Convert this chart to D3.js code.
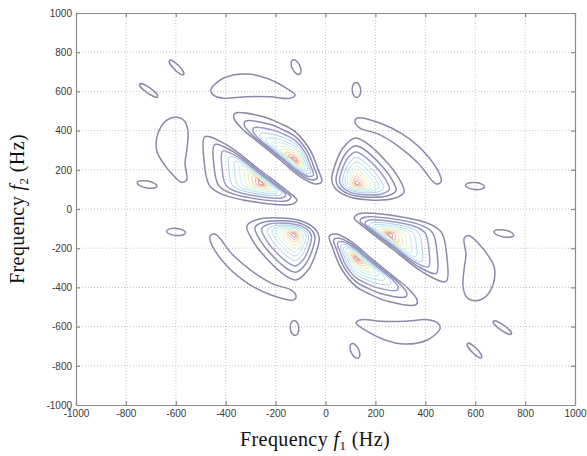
<!DOCTYPE html>
<html>
<head>
<meta charset="utf-8">
<script src="https://cdn.jsdelivr.net/npm/d3@7"></script>
<style>
  body { margin: 0; background: #fff; }
  svg { display: block; }
  .tick text { font-family: Arial, "Liberation Sans", sans-serif; font-size: 10px; fill: #3a3a3a; }
  .axis path, .axis line { stroke: #8c8c8c; stroke-width: 1.2; }
  .title { font-family: "Liberation Serif", "Times New Roman", serif; font-size: 20px; letter-spacing: 0.4px; fill: #111; }
</style>
</head>
<body>
<svg id="chart" width="587" height="456"></svg>
<script>
// tick values shared by both axes (Hz)
const ticks = [-1000, -800, -600, -400, -200, 0, 200, 400, 600, 800, 1000];

// contour levels: fraction of the outer outline (scaled toward the peak) and colour
const levelFractions = [1, 0.83, 0.69, 0.57, 0.47, 0.38, 0.3, 0.23, 0.165, 0.11, 0.06];
const levelColors = ["#8a8aa8", "#8c8cb2", "#999bca", "#a2c6e8", "#a6dcee", "#bdeee4",
                     "#daf2c0", "#f2e4a8", "#f2c69e", "#e89e96", "#c47c8c"];

// main lobes: peak (f1, f2) and outer contour outline
const lobePeaks = [
  [-255, 131], [-122, 250], [125, 131],
  [255, -131], [122, -250], [-125, -131]
];
const lobeOutlines = [
  [[-483,369],[-396,327],[-263,199],[-142,80],[-115,46],[-135,24],[-289,37],[-423,80],[-466,122],[-487,250]],
  [[-363,488],[-249,471],[-182,437],[-122,395],[-62,301],[-29,199],[-15,139],[-42,128],[-102,165],[-182,250],[-263,335],[-329,403],[-367,463]],
  [[25,148],[38,224],[70,311],[118,362],[158,342],[238,250],[291,163],[315,87],[279,56],[178,46],[86,66],[38,107]],
  [[483,-369],[396,-327],[263,-199],[142,-80],[115,-46],[135,-24],[289,-37],[423,-80],[466,-122],[487,-250]],
  [[363,-488],[249,-471],[182,-437],[122,-395],[62,-301],[29,-199],[15,-139],[42,-128],[102,-165],[182,-250],[263,-335],[329,-403],[367,-463]],
  [[-25,-148],[-38,-224],[-70,-311],[-118,-362],[-158,-342],[-238,-250],[-291,-163],[-315,-87],[-279,-56],[-178,-46],[-86,-66],[-38,-107]]
];

// side lobes (lowest level only)
const sideOutlines = [
  [[-596,468],[-636,454],[-671,388],[-677,301],[-651,235],[-611,173],[-576,136],[-556,148],[-563,233],[-556,301],[-551,388],[-563,445]],
  [[596,-468],[636,-454],[671,-388],[677,-301],[651,-235],[611,-173],[576,-136],[556,-148],[563,-233],[556,-301],[551,-388],[563,-445]],
  [[-460,607],[-410,667],[-316,689],[-236,667],[-156,616],[-122,582],[-142,565],[-222,573],[-316,573],[-410,565],[-450,582]],
  [[460,-607],[410,-667],[316,-689],[236,-667],[156,-616],[122,-582],[142,-565],[222,-573],[316,-573],[410,-565],[450,-582]],
  [[126,464],[218,439],[307,383],[395,291],[459,173],[463,138],[443,128],[371,235],[291,321],[210,383],[138,413],[118,444]],
  [[-126,-464],[-218,-439],[-307,-383],[-395,-291],[-459,-173],[-463,-138],[-443,-128],[-371,-235],[-291,-321],[-210,-383],[-138,-413],[-118,-444]]
];

// small closed islands: centre f1, centre f2, semi-axes (Hz on f1 scale), tilt (deg)
const islandF1 = [-709, -597, -715, -599, -118, 124, 709, 597, 715, 599, 118, -124];
const islandF2 = [605, 722, 125, -117, 724, 607, -605, -722, -125, 117, -724, -607];
const islandA  = [44, 40, 40, 38, 32, 30, 44, 40, 40, 38, 32, 30];
const islandB  = [11, 11, 14, 14, 16, 17, 11, 11, 14, 14, 16, 17];
const islandTilt = [35, 45, 10, 5, 65, 85, 35, 45, 10, 5, 65, 85];

let width = 587,
    height = 456,
    margins = {top: 13, bottom: 51, left: 76, right: 12};

let svg = d3.select("#chart");

let x = d3.scaleLinear().domain([-1000, 1000]).range([margins.left, width - margins.right]),
    y = d3.scaleLinear().domain([-1000, 1000]).range([height - margins.bottom, margins.top]);

// grid
let grid = svg.append("g");
grid.selectAll("line.v")
  .data(ticks.slice(1, -1)).enter()
  .append("line")
  .attr("x1", d => x(d)).attr("x2", d => x(d))
  .attr("y1", y(-1000)).attr("y2", y(1000));
grid.selectAll("line.h")
  .data(ticks.slice(1, -1)).enter()
  .append("line")
  .attr("y1", d => y(d)).attr("y2", d => y(d))
  .attr("x1", x(-1000)).attr("x2", x(1000));
grid.selectAll("line")
  .attr("stroke", "#c4c4c4")
  .attr("stroke-width", 1)
  .attr("stroke-dasharray", "1,2");

svg.append("clipPath").attr("id", "clip")
  .append("rect")
  .attr("x", x(-1000)).attr("y", y(1000))
  .attr("width", x(1000) - x(-1000)).attr("height", y(-1000) - y(1000));

let plot = svg.append("g").attr("clip-path", "url(#clip)");

let contourLine = d3.line()
  .x(d => x(d[0]))
  .y(d => y(d[1]))
  .curve(d3.curveCatmullRomClosed.alpha(0.5));

// side lobes
plot.selectAll("path.side")
  .data(sideOutlines).enter()
  .append("path")
  .attr("d", contourLine)
  .attr("fill", "none")
  .attr("stroke", levelColors[0])
  .attr("stroke-width", 1.5);

// islands
let pxPerHz = x(1) - x(0);
plot.selectAll("ellipse")
  .data(islandF1.map((d, i) => i)).enter()
  .append("ellipse")
  .attr("cx", 0).attr("cy", 0)
  .attr("rx", i => islandA[i] * pxPerHz)
  .attr("ry", i => islandB[i] * pxPerHz)
  .attr("transform", i => `translate(${x(islandF1[i])},${y(islandF2[i])}) rotate(${islandTilt[i]})`)
  .attr("fill", "none")
  .attr("stroke", levelColors[0])
  .attr("stroke-width", 1.5);

// main lobes, outer level first
lobeOutlines.forEach((outline, k) => {
  let peak = lobePeaks[k];
  levelFractions.forEach((s, i) => {
    let pts = outline.map(p => [peak[0] + s * (p[0] - peak[0]), peak[1] + s * (p[1] - peak[1])]);
    plot.append("path")
      .attr("d", contourLine(pts))
      .attr("fill", "none")
      .attr("stroke", levelColors[i])
      .attr("stroke-width", i < 3 ? 1.5 : 0.9);
  });
});

// axes (ticks point inward on all four sides)
let fmt = d => String(d);
svg.append("g").attr("class", "axis")
  .attr("transform", `translate(0,${y(-1000)})`)
  .call(d3.axisBottom(x).tickValues(ticks).tickFormat(fmt).tickSizeInner(-4).tickSizeOuter(0).tickPadding(5));
svg.append("g").attr("class", "axis")
  .attr("transform", `translate(${x(-1000)},0)`)
  .call(d3.axisLeft(y).tickValues(ticks).tickFormat(fmt).tickSizeInner(-4).tickSizeOuter(0).tickPadding(4));
svg.append("g").attr("class", "axis")
  .attr("transform", `translate(0,${y(1000)})`)
  .call(d3.axisTop(x).tickValues(ticks).tickFormat("").tickSizeInner(-4).tickSizeOuter(0));
svg.append("g").attr("class", "axis")
  .attr("transform", `translate(${x(1000)},0)`)
  .call(d3.axisRight(y).tickValues(ticks).tickFormat("").tickSizeInner(-4).tickSizeOuter(0));
svg.selectAll(".axis .domain").attr("stroke", "#8c8c8c");

// axis titles
let xt = svg.append("text").attr("class", "title")
  .attr("x", 315).attr("y", 446)
  .attr("text-anchor", "middle");
xt.append("tspan").text("Frequency ");
xt.append("tspan").attr("font-style", "italic").text("f");
xt.append("tspan").attr("font-size", "13px").attr("dy", 4).text("1");
xt.append("tspan").attr("dy", -4).text(" (Hz)");

let yt = svg.append("text").attr("class", "title")
  .attr("transform", `translate(24,${y(0)}) rotate(-90)`)
  .attr("text-anchor", "middle");
yt.append("tspan").text("Frequency ");
yt.append("tspan").attr("font-style", "italic").text("f");
yt.append("tspan").attr("font-size", "13px").attr("dy", 4).text("2");
yt.append("tspan").attr("dy", -4).text(" (Hz)");
</script>
</body>
</html>
